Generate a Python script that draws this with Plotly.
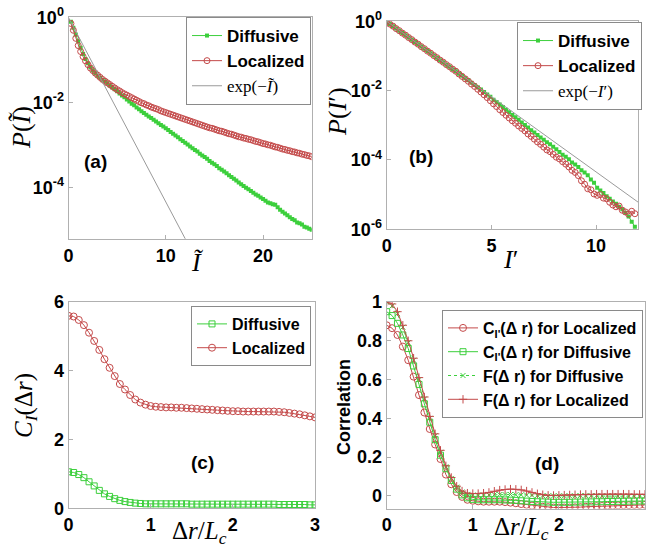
import numpy as np
import plotly.graph_objects as go

GREEN = "#3ccf3c"
RED = "#c44a4a"
GRAY = "#9a9a9a"
SANS = "Liberation Sans, Arial, sans-serif"
SERIF = "Liberation Serif, Times New Roman, serif"

# ---------------- Panel (a): P(I~), log10 values ----------------
a_I = np.round(np.arange(0.25, 25.001, 0.25), 2)
a_loc_log10 = [
    -0.14, -0.30, -0.49, -0.66, -0.80, -0.92, -1.02, -1.11, -1.19, -1.25,
    -1.31, -1.36, -1.41, -1.46, -1.50, -1.54, -1.58, -1.62, -1.66, -1.70,
    -1.73, -1.77, -1.80, -1.83, -1.86, -1.89, -1.92, -1.95, -1.98, -2.01,
    -2.03, -2.06, -2.08, -2.11, -2.13, -2.15, -2.17, -2.20, -2.22, -2.24,
    -2.26, -2.28, -2.30, -2.32, -2.34, -2.36, -2.38, -2.40, -2.42, -2.44,
    -2.46, -2.48, -2.50, -2.52, -2.54, -2.56, -2.58, -2.60, -2.61, -2.63,
    -2.65, -2.67, -2.68, -2.70, -2.72, -2.74, -2.75, -2.77, -2.79, -2.81,
    -2.82, -2.84, -2.85, -2.87, -2.88, -2.90, -2.92, -2.93, -2.95, -2.97,
    -2.98, -3.00, -3.01, -3.03, -3.05, -3.06, -3.08, -3.10, -3.11, -3.13,
    -3.14, -3.16, -3.17, -3.19, -3.20, -3.22, -3.23, -3.25, -3.26, -3.28,
]
a_dif_log10 = [
    -0.10, -0.24, -0.40, -0.56, -0.71, -0.86, -0.98, -1.08, -1.17, -1.25,
    -1.31, -1.37, -1.42, -1.47, -1.51, -1.55, -1.60, -1.65, -1.69, -1.74,
    -1.79, -1.84, -1.88, -1.93, -1.98, -2.03, -2.07, -2.12, -2.16, -2.21,
    -2.25, -2.29, -2.33, -2.37, -2.41, -2.45, -2.49, -2.53, -2.57, -2.61,
    -2.65, -2.70, -2.74, -2.78, -2.82, -2.87, -2.91, -2.95, -2.99, -3.04,
    -3.08, -3.12, -3.16, -3.21, -3.25, -3.29, -3.33, -3.38, -3.42, -3.46,
    -3.50, -3.55, -3.59, -3.63, -3.67, -3.72, -3.76, -3.80, -3.84, -3.89,
    -3.93, -3.97, -4.01, -4.05, -4.09, -4.13, -4.17, -4.20, -4.24, -4.28,
    -4.32, -4.36, -4.38, -4.40, -4.41, -4.47, -4.53, -4.58, -4.62, -4.66,
    -4.71, -4.75, -4.78, -4.83, -4.85, -4.88, -4.93, -4.95, -4.98, -5.00,
]
a_exp_x = [0, 12]
a_exp_y = [1.0, 6.1e-6]

# ---------------- Panel (b): P(I'), log10 values ----------------
b_I = np.round(np.arange(0, 11.851, 0.15), 2)
b_dif_log10 = [
    -0.02, -0.08, -0.14, -0.21, -0.27, -0.34, -0.40, -0.47, -0.53, -0.60,
    -0.66, -0.73, -0.79, -0.86, -0.92, -0.99, -1.05, -1.12, -1.18, -1.25,
    -1.31, -1.38, -1.44, -1.51, -1.57, -1.64, -1.70, -1.77, -1.84, -1.90,
    -1.97, -2.04, -2.11, -2.18, -2.26, -2.33, -2.40, -2.47, -2.55, -2.62,
    -2.70, -2.77, -2.84, -2.92, -2.99, -3.06, -3.14, -3.21, -3.28, -3.35,
    -3.42, -3.49, -3.55, -3.62, -3.69, -3.77, -3.85, -3.91, -3.98, -4.07,
    -4.13, -4.20, -4.30, -4.36, -4.44, -4.56, -4.66, -4.80, -4.88, -4.95,
    -5.05, -5.12, -5.20, -5.26, -5.35, -5.42, -5.52, -5.63, -5.78, -5.93,
]
b_loc_log10 = [
    -0.02, -0.08, -0.14, -0.21, -0.27, -0.34, -0.40, -0.47, -0.53, -0.60,
    -0.66, -0.73, -0.79, -0.86, -0.92, -0.99, -1.05, -1.12, -1.18, -1.25,
    -1.31, -1.38, -1.44, -1.52, -1.59, -1.66, -1.73, -1.81, -1.88, -1.96,
    -2.04, -2.12, -2.20, -2.29, -2.38, -2.46, -2.55, -2.63, -2.71, -2.79,
    -2.87, -2.94, -3.02, -3.09, -3.16, -3.25, -3.32, -3.40, -3.48, -3.55,
    -3.63, -3.71, -3.76, -3.84, -3.92, -3.97, -4.05, -4.12, -4.20, -4.30,
    -4.36, -4.45, -4.60, -4.70, -4.83, -4.86, -4.98, -5.02, -5.00, -5.10,
    -5.12, -5.22, -5.30, -5.35, -5.33, -5.45, -5.50, -5.56, -5.48, -5.55,
]
b_exp_x = [0, 12]
b_exp_y = [1.0, 6.1e-6]

# ---------------- Panel (c): C_I(dr) ----------------
c_r = np.round(np.arange(0, 3.0001, 0.0625), 4)
c_dif = [
    1.06, 1.04, 0.98, 0.89, 0.77, 0.65, 0.52, 0.42, 0.345, 0.28,
    0.23, 0.195, 0.17, 0.15, 0.14, 0.13, 0.13, 0.13, 0.13, 0.13,
    0.13, 0.13, 0.13, 0.13, 0.12, 0.12, 0.12, 0.12, 0.12, 0.12,
    0.12, 0.12, 0.12, 0.12, 0.12, 0.12, 0.12, 0.12, 0.12, 0.12,
    0.12, 0.11, 0.11, 0.11, 0.11, 0.11, 0.11, 0.10, 0.10,
]
c_loc = [
    5.59, 5.57, 5.47, 5.32, 5.10, 4.86, 4.60, 4.33, 4.08, 3.84,
    3.61, 3.45, 3.29, 3.16, 3.07, 3.01, 2.97, 2.95, 2.94, 2.93,
    2.93, 2.92, 2.92, 2.91, 2.90, 2.89, 2.88, 2.87, 2.86, 2.85,
    2.84, 2.83, 2.82, 2.82, 2.81, 2.81, 2.81, 2.81, 2.81, 2.81,
    2.81, 2.80, 2.79, 2.77, 2.75, 2.73, 2.70, 2.67, 2.64,
]

# ---------------- Panel (d): correlations ----------------
d_r = np.round(np.arange(0, 3.0001, 0.0625), 4)
d_c_loc = [
    0.88, 0.865, 0.83, 0.77, 0.70, 0.615, 0.52, 0.43, 0.345, 0.265,
    0.19, 0.11, 0.06, 0.02, -0.005, -0.02, -0.025, -0.028, -0.03, -0.03,
    -0.03, -0.03, -0.032, -0.035, -0.038, -0.042, -0.046, -0.05, -0.053, -0.056,
    -0.058, -0.06, -0.06, -0.06, -0.06, -0.059, -0.058, -0.056, -0.055, -0.053,
    -0.052, -0.05, -0.05, -0.049, -0.048, -0.048, -0.047, -0.047, -0.046,
]
d_c_dif = [
    0.95, 0.93, 0.89, 0.83, 0.76, 0.67, 0.575, 0.475, 0.38, 0.29,
    0.21, 0.14, 0.08, 0.035, 0.005, -0.01, -0.018, -0.02, -0.02, -0.02,
    -0.02, -0.02, -0.021, -0.022, -0.023, -0.025, -0.027, -0.029, -0.03, -0.031,
    -0.032, -0.033, -0.033, -0.033, -0.033, -0.032, -0.032, -0.031, -0.031, -0.03,
    -0.03, -0.029, -0.029, -0.028, -0.028, -0.027, -0.027, -0.026, -0.026,
]
d_f_dif = [
    1.0, 0.98, 0.94, 0.87, 0.79, 0.70, 0.60, 0.50, 0.40, 0.31,
    0.225, 0.15, 0.09, 0.045, 0.02, 0.008, 0.004, 0.003, 0.004, 0.005,
    0.006, 0.007, 0.007, 0.007, 0.006, 0.005, 0.004, 0.003, 0.002, 0.001,
    0.0, 0.0, 0.0, 0.0, 0.0, 0.0, 0.001, 0.001, 0.001, 0.001,
    0.0, 0.0, 0.0, -0.001, -0.001, -0.002, -0.002, -0.002, -0.003,
]
d_f_loc = [
    1.0, 0.99, 0.95, 0.88, 0.80, 0.71, 0.61, 0.51, 0.41, 0.32,
    0.235, 0.155, 0.095, 0.05, 0.025, 0.014, 0.012, 0.012, 0.014, 0.018,
    0.024, 0.03, 0.033, 0.035, 0.034, 0.031, 0.025, 0.018, 0.011, 0.006,
    0.003, 0.002, 0.003, 0.004, 0.005, 0.006, 0.007, 0.008, 0.008, 0.009,
    0.009, 0.009, 0.009, 0.009, 0.009, 0.009, 0.008, 0.008, 0.008,
]

W, H = 646, 550


def px_x(p):
    return p / W


def px_y(p):
    return 1 - p / H


fig = go.Figure()

# panel a
fig.add_trace(go.Scatter(x=a_I, y=[10 ** v for v in a_dif_log10], name="Diffusive",
                         mode="lines+markers", line=dict(color=GREEN, width=1),
                         marker=dict(symbol="square", size=4, color=GREEN),
                         xaxis="x", yaxis="y", legend="legend"))
fig.add_trace(go.Scatter(x=a_I, y=[10 ** v for v in a_loc_log10], name="Localized",
                         mode="lines+markers", line=dict(color=RED, width=1),
                         marker=dict(symbol="circle-open", size=6, color=RED, line=dict(width=1)),
                         xaxis="x", yaxis="y", legend="legend"))
fig.add_trace(go.Scatter(x=a_exp_x, y=a_exp_y,
                         name="<span style='font-family:Liberation Serif;font-weight:normal'>exp(−<i>Ĩ</i>)</span>",
                         mode="lines", line=dict(color=GRAY, width=1),
                         xaxis="x", yaxis="y", legend="legend"))
# panel b
fig.add_trace(go.Scatter(x=b_I, y=[10 ** v for v in b_dif_log10], name="Diffusive",
                         mode="lines+markers", line=dict(color=GREEN, width=1),
                         marker=dict(symbol="square", size=4, color=GREEN),
                         xaxis="x2", yaxis="y2", legend="legend2"))
fig.add_trace(go.Scatter(x=b_I, y=[10 ** v for v in b_loc_log10], name="Localized",
                         mode="lines+markers", line=dict(color=RED, width=1),
                         marker=dict(symbol="circle-open", size=6, color=RED, line=dict(width=1)),
                         xaxis="x2", yaxis="y2", legend="legend2"))
fig.add_trace(go.Scatter(x=b_exp_x, y=b_exp_y,
                         name="<span style='font-family:Liberation Serif;font-weight:normal'>exp(−<i>I</i>′)</span>",
                         mode="lines", line=dict(color=GRAY, width=1),
                         xaxis="x2", yaxis="y2", legend="legend2"))
# panel c
fig.add_trace(go.Scatter(x=c_r, y=c_dif, name="Diffusive",
                         mode="lines+markers", line=dict(color=GREEN, width=1),
                         marker=dict(symbol="square-open", size=6, color=GREEN, line=dict(width=1)),
                         xaxis="x3", yaxis="y3", legend="legend3"))
fig.add_trace(go.Scatter(x=c_r, y=c_loc, name="Localized",
                         mode="lines+markers", line=dict(color=RED, width=1),
                         marker=dict(symbol="circle-open", size=7, color=RED, line=dict(width=1)),
                         xaxis="x3", yaxis="y3", legend="legend3"))
# panel d
fig.add_trace(go.Scatter(x=d_r, y=d_c_loc, name="C<sub>I'</sub>(Δ r) for Localized",
                         mode="lines+markers", line=dict(color=RED, width=1),
                         marker=dict(symbol="circle-open", size=7, color=RED, line=dict(width=1)),
                         xaxis="x4", yaxis="y4", legend="legend4"))
fig.add_trace(go.Scatter(x=d_r, y=d_c_dif, name="C<sub>I'</sub>(Δ r) for Diffusive",
                         mode="lines+markers", line=dict(color=GREEN, width=1),
                         marker=dict(symbol="square-open", size=6, color=GREEN, line=dict(width=1)),
                         xaxis="x4", yaxis="y4", legend="legend4"))
fig.add_trace(go.Scatter(x=d_r, y=d_f_dif, name="F(Δ r) for Diffusive",
                         mode="lines+markers", line=dict(color=GREEN, width=1, dash="dot"),
                         marker=dict(symbol="x-thin", size=5, color=GREEN, line=dict(width=1, color=GREEN)),
                         xaxis="x4", yaxis="y4", legend="legend4"))
fig.add_trace(go.Scatter(x=d_r, y=d_f_loc, name="F(Δ r) for Localized",
                         mode="lines+markers", line=dict(color=RED, width=1),
                         marker=dict(symbol="cross-thin", size=6, color=RED, line=dict(width=1, color=RED)),
                         xaxis="x4", yaxis="y4", legend="legend4"))

axis_common = dict(showgrid=False, zeroline=False, showline=True, mirror=True, automargin=False,
                   linecolor="#b0b0b0", linewidth=1, ticks="inside", ticklen=4,
                   tickcolor="#b0b0b0",
                   tickfont=dict(family=SANS, size=18, color="black", weight="bold"))

dom_a_x = [px_x(68.5), px_x(311.7)]
dom_a_y = [px_y(239), px_y(16.7)]
dom_b_x = [px_x(386.7), px_x(638)]
dom_b_y = [px_y(229.3), px_y(21.3)]
dom_c_x = [px_x(68.5), px_x(315)]
dom_c_y = [px_y(508.3), px_y(301.7)]
dom_d_x = [px_x(386.7), px_x(645)]
dom_d_y = [px_y(508.5), px_y(302)]

fig.update_layout(
    template="none",
    width=W, height=H, margin=dict(l=0, r=0, t=0, b=0, autoexpand=False),
    paper_bgcolor="white", plot_bgcolor="white",
    xaxis=dict(domain=dom_a_x, anchor="y", range=[0, 25], tickvals=[0, 10, 20], **axis_common),
    yaxis=dict(domain=dom_a_y, anchor="x", type="log", range=[-5.22, 0.02],
               tickvals=[1, 1e-2, 1e-4], ticktext=["10<sup>0</sup>", "10<sup>-2</sup>", "10<sup>-4</sup>"],
               **axis_common),
    xaxis2=dict(domain=dom_b_x, anchor="y2", range=[0, 12], tickvals=[0, 5, 10], **axis_common),
    yaxis2=dict(domain=dom_b_y, anchor="x2", type="log", range=[-6, 0],
                tickvals=[1, 1e-2, 1e-4, 1e-6],
                ticktext=["10<sup>0</sup>", "10<sup>-2</sup>", "10<sup>-4</sup>", "10<sup>-6</sup>"],
                **axis_common),
    xaxis3=dict(domain=dom_c_x, anchor="y3", range=[0, 3], tickvals=[0, 1, 2, 3], **axis_common),
    yaxis3=dict(domain=dom_c_y, anchor="x3", range=[0, 6], tickvals=[0, 2, 4, 6], **axis_common),
    xaxis4=dict(domain=dom_d_x, anchor="y4", range=[0, 3], tickvals=[0, 1, 2, 3], **axis_common),
    yaxis4=dict(domain=dom_d_y, anchor="x4", range=[-0.065, 1.0],
                tickvals=[0, 0.2, 0.4, 0.6, 0.8, 1.0], ticktext=["0", "0.2", "0.4", "0.6", "0.8", "1"],
                **axis_common),
)

leg_common = dict(xanchor="right", yanchor="top", bgcolor="white", bordercolor="#8a8a8a",
                  borderwidth=1, itemwidth=30, tracegroupgap=0)
fig.update_layout(
    legend=dict(x=px_x(311), y=px_y(17), font=dict(family=SANS, size=17, color="black", weight="bold"), **leg_common),
    legend2=dict(x=px_x(642), y=px_y(22), font=dict(family=SANS, size=17, color="black", weight="bold"), **leg_common),
    legend3=dict(x=px_x(311), y=px_y(306), font=dict(family=SANS, size=16, color="black", weight="bold"), **leg_common),
    legend4=dict(x=px_x(643), y=px_y(310), font=dict(family=SANS, size=16, color="black", weight="bold"), **leg_common),
)


def ann(text, x, y, size, family, angle=0, bold=False):
    fig.add_annotation(text=text, x=px_x(x), y=px_y(y), xref="paper", yref="paper",
                       xanchor="center", yanchor="middle", showarrow=False, textangle=angle,
                       font=dict(family=family, size=size, color="black",
                                 weight="bold" if bold else "normal"))


# axis titles
ann("<i>P</i>(<i>Ĩ</i>)", 22, 128, 26, SERIF, -90)
ann("<i>Ĩ</i>", 197, 262, 26, SERIF)
ann("<i>P</i>(<i>I</i>′)", 338, 112, 26, SERIF, -90)
ann("<i>I</i>′", 510, 259, 26, SERIF)
ann("<i>C</i><sub><i>I</i></sub>(Δ<i>r</i>)", 25, 406, 25, SERIF, -90)
ann("Δ<i>r</i>/<i>L</i><sub><i>c</i></sub>", 199, 532, 25, SERIF)
ann("Correlation", 344, 407, 18, SANS, -90, bold=True)
ann("Δ<i>r</i>/<i>L</i><sub><i>c</i></sub>", 521, 528, 25, SERIF)
# panel labels
ann("(a)", 95, 161, 19, SANS, bold=True)
ann("(b)", 421, 157, 19, SANS, bold=True)
ann("(c)", 202, 462, 19, SANS, bold=True)
ann("(d)", 547, 463, 19, SANS, bold=True)

fig.write_html("out.html", config={"displayModeBar": False},
               post_script="document.body.style.margin='0';")
